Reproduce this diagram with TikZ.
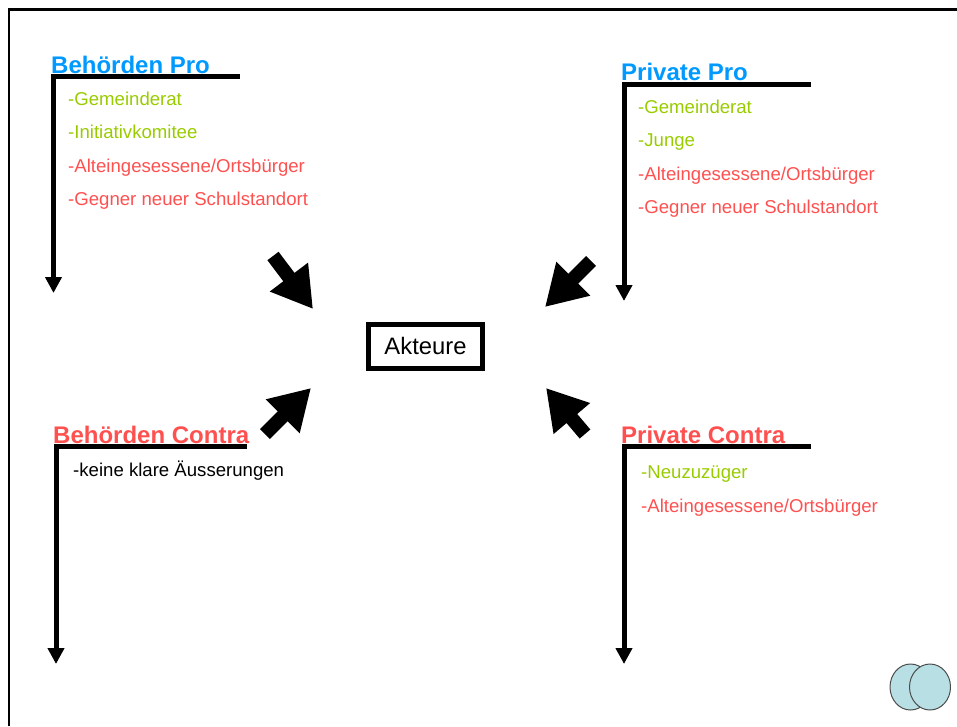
\documentclass[tikz,border=0pt]{standalone}
\usepackage{fontspec}
\setmainfont{Liberation Sans}
\usetikzlibrary{arrows.meta,shapes.geometric}
\definecolor{headblue}{RGB}{0,153,255}
\definecolor{itemgreen}{RGB}{153,204,0}
\definecolor{itemred}{RGB}{255,80,80}
\definecolor{venn}{RGB}{184,224,228}

\begin{document}
\begin{tikzpicture}[
    x = 1pt, y = -1pt,
    heading/.style = {anchor=base west, inner sep=0pt, font=\fontsize{24}{24}\selectfont\bfseries},
    entry/.style   = {anchor=base west, inner sep=0pt, font=\fontsize{18.6}{20}\selectfont},
    pro/.style     = {entry, text=itemgreen},
    con/.style     = {entry, text=itemred},
    axes/.style    = {line width=5pt, -{Triangle[length=16pt,width=16pt]}},
    bigarrow/.style = {line width=14pt, -{Triangle[length=40pt,width=45pt]}},
    vennblob/.style = {ellipse, draw=black!70, line width=1pt, fill=venn,
      minimum width=41pt, minimum height=46pt, inner sep=0pt}
  ]
  \useasboundingbox (0,0) rectangle (957,726);
  \draw [line width=2.5pt] (9,726) -- (9,9.5) -- (957,9.5);

  % center
  \node [draw, line width=5pt, minimum width=114pt, minimum height=44pt, inner sep=0pt,
    font=\fontsize{23.8}{24}\selectfont] (akteure) at (425.5,346) {Akteure};

  % Behoerden Pro
  \node [heading, text=headblue] (bpro) at (51,73) {Behörden Pro};
  \node [pro] (bpro1) at (68,105) {-Gemeinderat};
  \node [pro] (bpro2) at (68,138) {-Initiativkomitee};
  \node [con] (bpro3) at (68,172) {-Alteingesessene/Ortsbürger};
  \node [con] (bpro4) at (68,205) {-Gegner neuer Schulstandort};
  \coordinate (bproEnd) at (240,76);
  \coordinate (bproCorner) at (53.5,76);
  \coordinate (bproTip) at (53.5,293);
  \draw [axes] (bproEnd) -- (bproCorner) -- (bproTip);

  % Private Pro
  \node [heading, text=headblue] (ppro) at (621,80) {Private Pro};
  \node [pro] (ppro1) at (638,113) {-Gemeinderat};
  \node [pro] (ppro2) at (638,146) {-Junge};
  \node [con] (ppro3) at (638,180) {-Alteingesessene/Ortsbürger};
  \node [con] (ppro4) at (638,213) {-Gegner neuer Schulstandort};
  \coordinate (pproEnd) at (811,84);
  \coordinate (pproCorner) at (624,84);
  \coordinate (pproTip) at (624,301);
  \draw [axes] (pproEnd) -- (pproCorner) -- (pproTip);

  % Behoerden Contra
  \node [heading, text=itemred] (bcon) at (53,443) {Behörden Contra};
  \node [entry] (bcon1) at (73,476) {-keine klare Äusserungen};
  \coordinate (bconEnd) at (247,446);
  \coordinate (bconCorner) at (56,446);
  \coordinate (bconTip) at (56,664);
  \draw [axes] (bconEnd) -- (bconCorner) -- (bconTip);

  % Private Contra
  \node [heading, text=itemred] (pcon) at (621,443) {Private Contra};
  \node [pro] (pcon1) at (641,478) {-Neuzuzüger};
  \node [con] (pcon2) at (641,512) {-Alteingesessene/Ortsbürger};
  \coordinate (pconEnd) at (811,446);
  \coordinate (pconCorner) at (624,446);
  \coordinate (pconTip) at (624,664);
  \draw [axes] (pconEnd) -- (pconCorner) -- (pconTip);

  % arrows to center
  \coordinate (tlTail) at (273,256);
  \coordinate (tlTip) at (313,309);
  \coordinate (trTail) at (591,261);
  \coordinate (trTip) at (545,307);
  \coordinate (blTail) at (265,434);
  \coordinate (blTip) at (311,388);
  \coordinate (brTail) at (585,434);
  \coordinate (brTip) at (546,388);
  \draw [bigarrow] (tlTail) -- (tlTip);
  \draw [bigarrow] (trTail) -- (trTip);
  \draw [bigarrow] (blTail) -- (blTip);
  \draw [bigarrow] (brTail) -- (brTip);

  % logo
  \node [vennblob] (vennL) at (910.5,687) {};
  \node [vennblob] (vennR) at (930,687) {};
\end{tikzpicture}
\end{document}
